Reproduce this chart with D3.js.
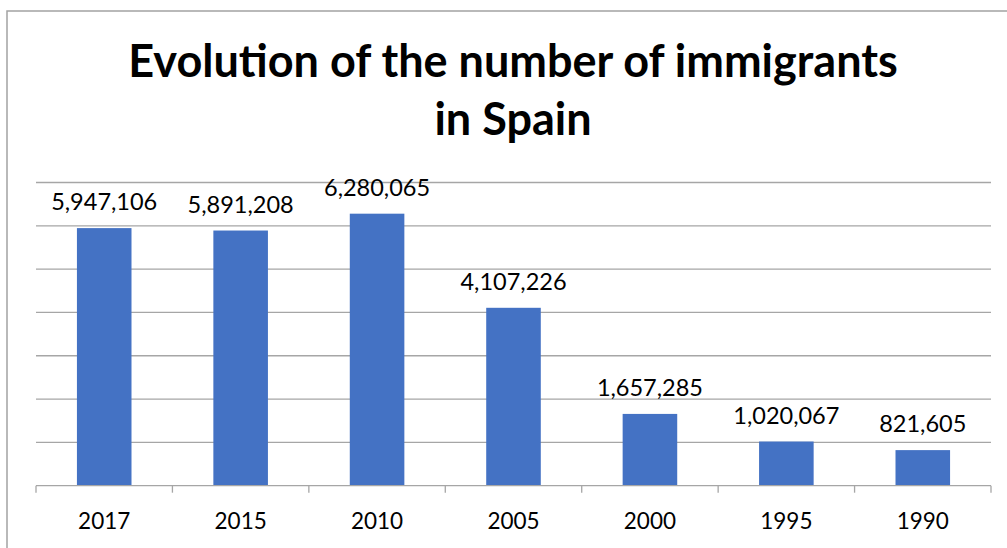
<!DOCTYPE html>
<html>
<head>
<meta charset="utf-8">
<script src="https://cdn.jsdelivr.net/npm/d3@7"></script>
<style>
  body { margin: 0; background: #fff; }
  svg { display: block; }
</style>
</head>
<body>
<div id="chart"></div>
<script>
// data
const years = ["2017", "2015", "2010", "2005", "2000", "1995", "1990"];
const immigrants = [5947106, 5891208, 6280065, 4107226, 1657285, 1020067, 821605];
const yTicks = [0, 1000000, 2000000, 3000000, 4000000, 5000000, 6000000, 7000000];
const titleLines = ["Evolution of the number of immigrants", "in Spain"];

var W = 1007, H = 548;
var margins = {top: 182.5, right: 16, bottom: 62.3, left: 36},
    width = W - margins.left - margins.right,
    height = H - margins.top - margins.bottom;

var svg = d3.select("#chart").append("svg")
    .attr("width", W)
    .attr("height", H);

// outer frame (only top & left edge visible in the reference)
svg.append("rect")
    .attr("x", 7).attr("y", 11)
    .attr("width", W + 20).attr("height", H + 20)
    .style("fill", "none")
    .style("stroke", "#a3a3a3")
    .style("stroke-width", 1.5);

// title
svg.append("text")
    .attr("x", 513)
    .attr("y", 77)
    .style("text-anchor", "middle")
    .style("font-family", "Lato, sans-serif")
    .style("font-weight", "bold")
    .style("font-size", "45px")
    .style("fill", "#000")
    .selectAll("tspan")
    .data(titleLines)
    .enter().append("tspan")
    .attr("x", 513)
    .attr("dy", (d, i) => i === 0 ? 0 : 58)
    .text(d => d);

var g = svg.append("g")
    .attr("transform", "translate(" + margins.left + "," + margins.top + ")");

const x = d3.scaleBand()
    .domain(years)
    .range([0, width])
    .paddingInner(0.6)
    .paddingOuter(0.3);

const xTicksScale = d3.scaleBand().domain(years).range([0, width]);

const y = d3.scaleLinear()
    .domain([0, 7000000])
    .range([height, 0]);

// horizontal gridlines
g.selectAll("line.grid")
    .data(yTicks.slice(1))
    .enter().append("line")
    .attr("class", "grid")
    .attr("x1", 0)
    .attr("x2", width)
    .attr("y1", d => y(d))
    .attr("y2", d => y(d))
    .style("stroke", "#a6a6a6")
    .style("stroke-width", 1.3);

// bars
g.selectAll(".bar")
    .data(years)
    .enter().append("rect")
    .attr("class", "bar")
    .attr("x", d => x(d))
    .attr("width", x.bandwidth())
    .attr("y", (d, i) => y(immigrants[i]))
    .attr("height", (d, i) => height - y(immigrants[i]))
    .style("fill", "#4472c4");

// x axis: baseline + tick marks between categories
var axis = g.append("g").attr("transform", "translate(0," + height + ")");
axis.append("line")
    .attr("x1", 0).attr("x2", width)
    .style("stroke", "#a6a6a6")
    .style("stroke-width", 1.3);
axis.selectAll("line.tick")
    .data(years.concat(["end"]))
    .enter().append("line")
    .attr("class", "tick")
    .attr("x1", (d, i) => i < years.length ? xTicksScale(d) : width)
    .attr("x2", (d, i) => i < years.length ? xTicksScale(d) : width)
    .attr("y1", 0).attr("y2", 7)
    .style("stroke", "#a6a6a6")
    .style("stroke-width", 1.3);
axis.selectAll("text")
    .data(years)
    .enter().append("text")
    .attr("x", d => xTicksScale(d) + xTicksScale.bandwidth() / 2)
    .attr("y", 43)
    .style("text-anchor", "middle")
    .style("font-family", "Lato, sans-serif")
    .style("font-size", "22.5px")
    .style("fill", "#000")
    .text(d => d);

// value labels
g.selectAll(".label")
    .data(years)
    .enter().append("text")
    .attr("class", "label")
    .attr("x", d => x(d) + x.bandwidth() / 2)
    .attr("y", (d, i) => y(immigrants[i]) - 18)
    .style("text-anchor", "middle")
    .style("font-family", "Lato, sans-serif")
    .style("font-size", "23.5px")
    .style("fill", "#000")
    .text((d, i) => d3.format(",")(immigrants[i]));
</script>
</body>
</html>
